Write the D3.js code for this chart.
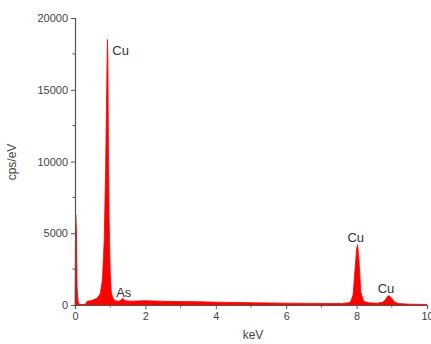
<!DOCTYPE html>
<html><head><meta charset="utf-8">
<script src="https://cdn.jsdelivr.net/npm/d3@7"></script>
<style>body{margin:0;background:#fff}svg{display:block}text{font-family:"Liberation Sans",Arial,sans-serif}</style>
</head><body><svg width="431" height="344"></svg>
<script>
const energy = [0,0.02,0.04,0.06,0.09,0.13,0.2,0.3,0.34,0.45,0.55,0.65,0.72,0.78,0.83,0.87,0.9,0.92,0.935,0.95,0.97,1.0,1.03,1.08,1.15,1.22,1.28,1.33,1.37,1.42,1.6,2.0,2.5,3.0,3.5,4.0,5.0,6.0,7.0,7.6,7.82,7.9,7.95,8.0,8.03,8.07,8.12,8.2,8.35,8.6,8.75,8.82,8.88,8.93,9.0,9.08,9.2,9.5,10];
const counts = [0,6300,5200,1200,200,50,20,60,250,300,380,520,800,1800,4500,9500,15000,18500,17000,11000,6000,2300,900,450,300,260,300,420,430,300,270,300,260,240,230,200,160,130,110,110,180,700,2300,3900,4200,3000,900,250,150,130,200,380,600,650,450,200,100,60,40];
const xTicks = [0,2,4,6,8,10];
const yTicks = [0,5000,10000,15000,20000];
const peakLabels = [{t:"Cu",e:1.06,c:17450},{t:"As",e:1.17,c:560},{t:"Cu",e:7.74,c:4400},{t:"Cu",e:8.6,c:840}];

const svg = d3.select("svg");
const x = d3.scaleLinear().domain([0,10]).range([75,427]);
const y = d3.scaleLinear().domain([0,20000]).range([305,18]);
const axisColor = "#555", textColor = "#444";

const area = d3.area().x((d,i)=>x(energy[i])).y0(y(0)).y1(d=>y(d)).curve(d3.curveLinear);
svg.append("path").datum(counts).attr("d",area).attr("fill","#f00").attr("stroke","#f00").attr("stroke-width",0.8);

const xAxis = d3.axisBottom(x).tickValues(xTicks).tickFormat(d3.format("d")).tickSize(4).tickPadding(3);
const gx = svg.append("g").attr("transform",`translate(0,${y(0)})`).call(xAxis);
const xMinor = d3.range(1,10,2);
gx.selectAll(".minor").data(xMinor).enter().append("line").attr("x1",d=>x(d)).attr("x2",d=>x(d)).attr("y1",0).attr("y2",2.5).attr("stroke",axisColor);

const yAxis = d3.axisLeft(y).tickValues(yTicks).tickFormat(d3.format("d")).tickSize(4).tickPadding(3);
const gy = svg.append("g").attr("transform",`translate(${x(0)},0)`).call(yAxis);
const yMinor = [2500,7500,12500,17500];
gy.selectAll(".minor").data(yMinor).enter().append("line").attr("y1",d=>y(d)).attr("y2",d=>y(d)).attr("x1",0).attr("x2",-2.5).attr("stroke",axisColor);

[gx,gy].forEach(g=>{
  g.select(".domain").attr("stroke",axisColor).attr("stroke-width",1.2);
  g.selectAll(".tick line").attr("stroke",axisColor);
  g.selectAll("text").attr("fill",textColor).style("font-size","11px");
});

svg.selectAll(".plabel").data(peakLabels).enter().append("text")
  .attr("x",d=>x(d.e)).attr("y",d=>y(d.c))
  .attr("fill","#333").style("font-size","13px").text(d=>d.t);

svg.append("text").attr("x",253).attr("y",339).attr("text-anchor","middle").attr("fill",textColor).style("font-size","12px").text("keV");
svg.append("text").attr("transform","translate(16,162) rotate(-90)").attr("text-anchor","middle").attr("fill",textColor).style("font-size","12px").text("cps/eV");
</script></body></html>
